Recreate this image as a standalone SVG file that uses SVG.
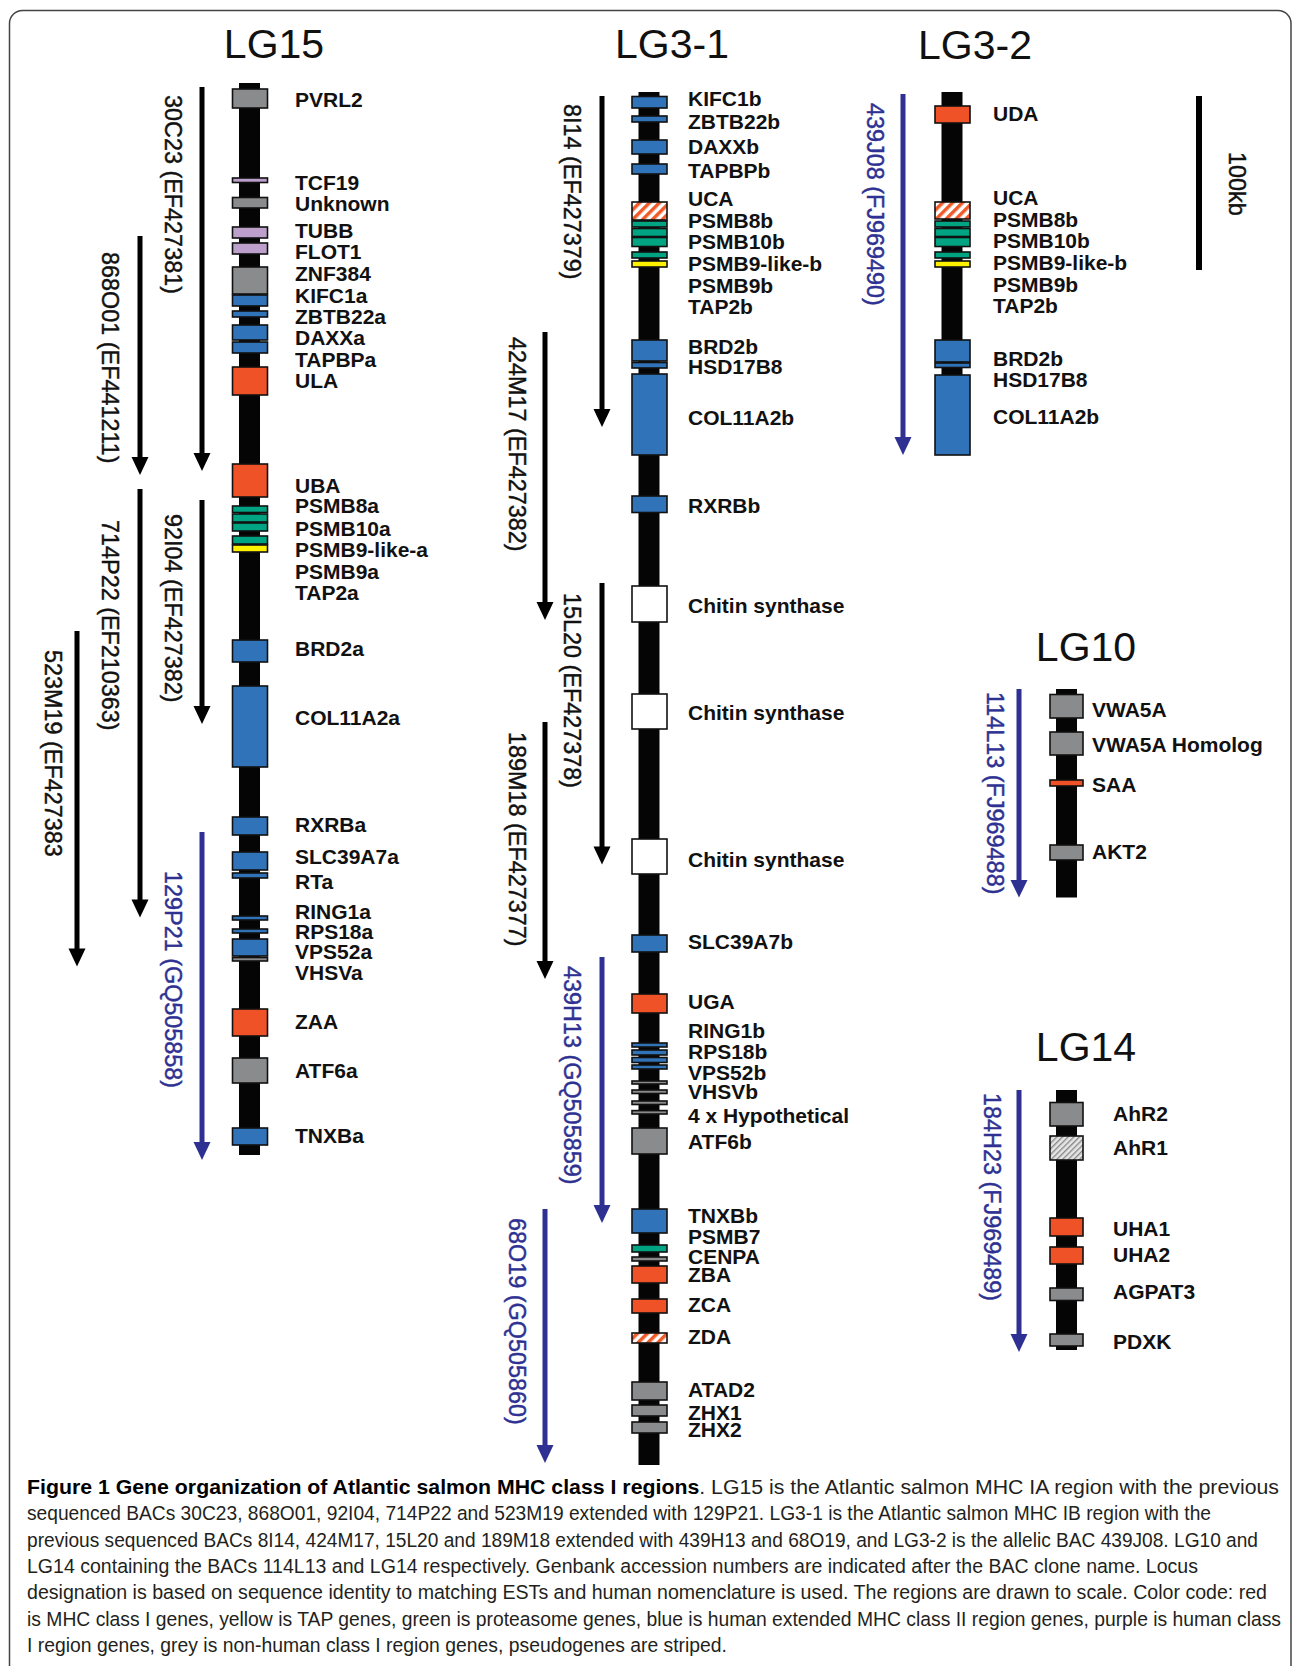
<svg xmlns="http://www.w3.org/2000/svg" width="1293" height="1666" viewBox="0 0 1293 1666">
<defs>
<pattern id="stripe" patternUnits="userSpaceOnUse" width="7" height="7" patternTransform="rotate(45)"><rect width="7" height="7" fill="#fff"/><rect width="3.5" height="7" fill="#f05a28"/></pattern>
<pattern id="hatch" patternUnits="userSpaceOnUse" width="4" height="4" patternTransform="rotate(45)"><rect width="4" height="4" fill="#e6e6e6"/><rect width="1.4" height="4" fill="#8a8a8a"/></pattern>
<style>
.bar{fill:#050505}
.b{stroke:#111;stroke-width:1.6}
.red{fill:#ee5226}.blue{fill:#3073b8}.grey{fill:#8a8b8d}.green{fill:#00a482}.yellow{fill:#fff200}.purple{fill:#bca0cb}.white{fill:#fff}.str{fill:url(#stripe)}.hat{fill:url(#hatch)}
text{font-family:"Liberation Sans",Arial,Helvetica,sans-serif}
.l{font-weight:bold;font-size:21px;fill:#111}
.t{font-size:41px;fill:#111;text-anchor:middle}
.bac{font-size:23.4px;fill:#111;stroke:#111;stroke-width:0.45}
.bacb{font-size:23.4px;fill:#2e3192;stroke:#2e3192;stroke-width:0.45}
.sh{stroke:#000;stroke-width:5;fill:none}
.shb{stroke:#2e3192;stroke-width:5;fill:none}
.hd{fill:#000}.hdb{fill:#2e3192}
.cap{font-size:20.5px;fill:#231f20}
</style>
</defs>
<rect x="9.5" y="10.5" width="1281.5" height="1700" rx="13" fill="#fff" stroke="#444" stroke-width="1.5"/>

<g id="titles">
<text class="t" x="274" y="58">LG15</text>
<text class="t" x="672" y="58">LG3-1</text>
<text class="t" x="975" y="59">LG3-2</text>
<text class="t" x="1086" y="661">LG10</text>
<text class="t" x="1086" y="1061">LG14</text>
</g>

<g id="lg15" transform="translate(232.5,0)">
<rect class="bar" x="6.5" y="83" width="21" height="1072"/>
<rect class="b grey" x="0" y="89" width="35" height="19"/>
<rect class="b purple" x="0" y="178" width="35" height="4.5"/>
<rect class="b grey" x="0" y="197.5" width="35" height="10.5"/>
<rect class="b purple" x="0" y="227" width="35" height="11"/>
<rect class="b purple" x="0" y="243" width="35" height="11"/>
<rect class="b grey" x="0" y="267" width="35" height="27"/>
<rect class="b blue" x="0" y="295" width="35" height="11"/>
<rect class="b blue" x="0" y="311" width="35" height="6"/>
<rect class="b blue" x="0" y="325" width="35" height="15"/>
<rect class="b blue" x="0" y="342" width="35" height="11"/>
<rect class="b red" x="0" y="367" width="35" height="28"/>
<rect class="b red" x="0" y="464" width="35" height="33"/>
<rect class="b green" x="0" y="506" width="35" height="6.5"/>
<rect class="b green" x="0" y="514" width="35" height="8"/>
<rect class="b green" x="0" y="523" width="35" height="8"/>
<rect class="b green" x="0" y="536" width="35" height="8"/>
<rect class="b yellow" x="0" y="545" width="35" height="7"/>
<rect class="b blue" x="0" y="640" width="35" height="22"/>
<rect class="b blue" x="0" y="686" width="35" height="81"/>
<rect class="b blue" x="0" y="817" width="35" height="18"/>
<rect class="b blue" x="0" y="852" width="35" height="18"/>
<rect class="b blue" x="0" y="873" width="35" height="5"/>
<rect class="b blue" x="0" y="916" width="35" height="4"/>
<rect class="b blue" x="0" y="929" width="35" height="4"/>
<rect class="b blue" x="0" y="939" width="35" height="17"/>
<rect class="b grey" x="0" y="957.5" width="35" height="3.5"/>
<rect class="b red" x="0" y="1009" width="35" height="27"/>
<rect class="b grey" x="0" y="1058" width="35" height="25"/>
<rect class="b blue" x="0" y="1128" width="35" height="17"/>
<text class="l" x="62.5" y="107">PVRL2</text>
<text class="l" x="62.5" y="190">TCF19</text>
<text class="l" x="62.5" y="211">Unknown</text>
<text class="l" x="62.5" y="237.5">TUBB</text>
<text class="l" x="62.5" y="259">FLOT1</text>
<text class="l" x="62.5" y="281">ZNF384</text>
<text class="l" x="62.5" y="303">KIFC1a</text>
<text class="l" x="62.5" y="324">ZBTB22a</text>
<text class="l" x="62.5" y="345">DAXXa</text>
<text class="l" x="62.5" y="367">TAPBPa</text>
<text class="l" x="62.5" y="388">ULA</text>
<text class="l" x="62.5" y="493">UBA</text>
<text class="l" x="62.5" y="513">PSMB8a</text>
<text class="l" x="62.5" y="536">PSMB10a</text>
<text class="l" x="62.5" y="557">PSMB9-like-a</text>
<text class="l" x="62.5" y="579">PSMB9a</text>
<text class="l" x="62.5" y="600">TAP2a</text>
<text class="l" x="62.5" y="655.5">BRD2a</text>
<text class="l" x="62.5" y="724.5">COL11A2a</text>
<text class="l" x="62.5" y="832">RXRBa</text>
<text class="l" x="62.5" y="864">SLC39A7a</text>
<text class="l" x="62.5" y="889">RTa</text>
<text class="l" x="62.5" y="919">RING1a</text>
<text class="l" x="62.5" y="939">RPS18a</text>
<text class="l" x="62.5" y="959">VPS52a</text>
<text class="l" x="62.5" y="980">VHSVa</text>
<text class="l" x="62.5" y="1028.6">ZAA</text>
<text class="l" x="62.5" y="1078">ATF6a</text>
<text class="l" x="62.5" y="1143">TNXBa</text>
</g>

<g id="lg3-1" transform="translate(632,0)">
<rect class="bar" x="6.5" y="92" width="21" height="1373"/>
<rect class="b blue" x="0" y="96.5" width="35" height="11.5"/>
<rect class="b blue" x="0" y="116" width="35" height="6"/>
<rect class="b blue" x="0" y="140" width="35" height="14"/>
<rect class="b blue" x="0" y="164" width="35" height="10"/>
<rect class="b str" x="0" y="202" width="35" height="18"/>
<rect class="b green" x="0" y="221" width="35" height="6"/>
<rect class="b green" x="0" y="228.5" width="35" height="8"/>
<rect class="b green" x="0" y="237.5" width="35" height="9"/>
<rect class="b green" x="0" y="252" width="35" height="6"/>
<rect class="b yellow" x="0" y="261" width="35" height="6"/>
<rect class="b blue" x="0" y="340" width="35" height="21"/>
<rect class="b blue" x="0" y="362.5" width="35" height="5.5"/>
<rect class="b blue" x="0" y="374" width="35" height="81"/>
<rect class="b blue" x="0" y="496" width="35" height="16.5"/>
<rect class="b white" x="0" y="586" width="35" height="36"/>
<rect class="b white" x="0" y="694" width="35" height="35"/>
<rect class="b white" x="0" y="839" width="35" height="35"/>
<rect class="b blue" x="0" y="935" width="35" height="17"/>
<rect class="b red" x="0" y="994" width="35" height="19"/>
<rect class="b blue" x="0" y="1043" width="35" height="4"/>
<rect class="b blue" x="0" y="1050" width="35" height="5"/>
<rect class="b blue" x="0" y="1057.5" width="35" height="5"/>
<rect class="b blue" x="0" y="1065" width="35" height="4"/>
<rect class="b grey" x="0" y="1081" width="35" height="3"/>
<rect class="b grey" x="0" y="1090" width="35" height="3.5"/>
<rect class="b grey" x="0" y="1101" width="35" height="3.5"/>
<rect class="b grey" x="0" y="1110.6" width="35" height="3.4"/>
<rect class="b grey" x="0" y="1128" width="35" height="26"/>
<rect class="b blue" x="0" y="1209" width="35" height="24"/>
<rect class="b green" x="0" y="1245" width="35" height="7"/>
<rect class="b grey" x="0" y="1257" width="35" height="4"/>
<rect class="b red" x="0" y="1266" width="35" height="17"/>
<rect class="b red" x="0" y="1299" width="35" height="14"/>
<rect class="b str" x="0" y="1333" width="35" height="10"/>
<rect class="b grey" x="0" y="1382" width="35" height="18"/>
<rect class="b grey" x="0" y="1405" width="35" height="11"/>
<rect class="b grey" x="0" y="1422" width="35" height="11"/>
<text class="l" x="56" y="106">KIFC1b</text>
<text class="l" x="56" y="129">ZBTB22b</text>
<text class="l" x="56" y="154">DAXXb</text>
<text class="l" x="56" y="177.5">TAPBPb</text>
<text class="l" x="56" y="206">UCA</text>
<text class="l" x="56" y="228">PSMB8b</text>
<text class="l" x="56" y="249">PSMB10b</text>
<text class="l" x="56" y="271">PSMB9-like-b</text>
<text class="l" x="56" y="293">PSMB9b</text>
<text class="l" x="56" y="314">TAP2b</text>
<text class="l" x="56" y="354">BRD2b</text>
<text class="l" x="56" y="374">HSD17B8</text>
<text class="l" x="56" y="425">COL11A2b</text>
<text class="l" x="56" y="512.5">RXRBb</text>
<text class="l" x="56" y="613">Chitin synthase</text>
<text class="l" x="56" y="719.6">Chitin synthase</text>
<text class="l" x="56" y="866.5">Chitin synthase</text>
<text class="l" x="56" y="949">SLC39A7b</text>
<text class="l" x="56" y="1008.6">UGA</text>
<text class="l" x="56" y="1038">RING1b</text>
<text class="l" x="56" y="1059">RPS18b</text>
<text class="l" x="56" y="1079.6">VPS52b</text>
<text class="l" x="56" y="1099">VHSVb</text>
<text class="l" x="56" y="1123">4 x Hypothetical</text>
<text class="l" x="56" y="1149">ATF6b</text>
<text class="l" x="56" y="1223">TNXBb</text>
<text class="l" x="56" y="1244">PSMB7</text>
<text class="l" x="56" y="1264">CENPA</text>
<text class="l" x="56" y="1282">ZBA</text>
<text class="l" x="56" y="1312">ZCA</text>
<text class="l" x="56" y="1344">ZDA</text>
<text class="l" x="56" y="1397">ATAD2</text>
<text class="l" x="56" y="1420">ZHX1</text>
<text class="l" x="56" y="1437">ZHX2</text>
</g>

<g id="lg3-2" transform="translate(935,0)">
<rect class="bar" x="6.5" y="92" width="21" height="363"/>
<rect class="b red" x="0" y="106" width="35" height="17"/>
<rect class="b str" x="0" y="202" width="35" height="17"/>
<rect class="b green" x="0" y="221" width="35" height="6"/>
<rect class="b green" x="0" y="228.5" width="35" height="8"/>
<rect class="b green" x="0" y="237.5" width="35" height="9"/>
<rect class="b green" x="0" y="252" width="35" height="6"/>
<rect class="b yellow" x="0" y="261" width="35" height="6"/>
<rect class="b blue" x="0" y="340" width="35" height="22"/>
<rect class="b blue" x="0" y="363" width="35" height="4.5"/>
<rect class="b blue" x="0" y="375" width="35" height="80"/>
<text class="l" x="58" y="121">UDA</text>
<text class="l" x="58" y="205">UCA</text>
<text class="l" x="58" y="227">PSMB8b</text>
<text class="l" x="58" y="248">PSMB10b</text>
<text class="l" x="58" y="270">PSMB9-like-b</text>
<text class="l" x="58" y="292">PSMB9b</text>
<text class="l" x="58" y="313">TAP2b</text>
<text class="l" x="58" y="366">BRD2b</text>
<text class="l" x="58" y="387">HSD17B8</text>
<text class="l" x="58" y="424">COL11A2b</text>
</g>

<g id="scale-bar">
<rect x="1196" y="96" width="6" height="174" fill="#000"/>
<text class="bac" transform="translate(1229,152) rotate(90)">100kb</text>
</g>

<g id="lg10" transform="translate(1050,0)">
<rect class="bar" x="6" y="689" width="21" height="208.5"/>
<rect class="b grey" x="0" y="694.5" width="33" height="23.5"/>
<rect class="b grey" x="0" y="732" width="33" height="23"/>
<rect class="b red" x="0" y="780" width="33" height="6"/>
<rect class="b grey" x="0" y="845" width="33" height="15"/>
<text class="l" x="42" y="717">VWA5A</text>
<text class="l" x="42" y="752">VWA5A Homolog</text>
<text class="l" x="42" y="791.5">SAA</text>
<text class="l" x="42" y="858.7">AKT2</text>
</g>

<g id="lg14" transform="translate(1050,0)">
<rect class="bar" x="6" y="1090" width="21" height="260"/>
<rect class="b grey" x="0" y="1102.5" width="33" height="23.5"/>
<rect class="b hat" x="0" y="1136" width="33" height="24"/>
<rect class="b red" x="0" y="1218" width="33" height="18"/>
<rect class="b red" x="0" y="1247" width="33" height="17"/>
<rect class="b grey" x="0" y="1288" width="33" height="12.5"/>
<rect class="b grey" x="0" y="1334" width="33" height="12"/>
<text class="l" x="63" y="1121">AhR2</text>
<text class="l" x="63" y="1155">AhR1</text>
<text class="l" x="63" y="1236">UHA1</text>
<text class="l" x="63" y="1262">UHA2</text>
<text class="l" x="63" y="1299">AGPAT3</text>
<text class="l" x="63" y="1349">PDXK</text>
</g>

<g id="bac-arrows">
<path class="sh" d="M202 87V455"/><path class="hd" d="M193.5 453h17l-8.5 18z"/>
<text class="bac" transform="translate(165,95) rotate(90)">30C23 (EF427381)</text>
<path class="sh" d="M140 236V460"/><path class="hd" d="M131.5 457h17l-8.5 18z"/>
<text class="bac" transform="translate(102,252) rotate(90)">868O01 (EF441211)</text>
<path class="sh" d="M140 489V902"/><path class="hd" d="M131.5 899.5h17l-8.5 18z"/>
<text class="bac" transform="translate(102,520) rotate(90)">714P22 (EF210363)</text>
<path class="sh" d="M202 500V709"/><path class="hd" d="M193.5 706h17l-8.5 18z"/>
<text class="bac" transform="translate(165,514) rotate(90)">92I04 (EF427382)</text>
<path class="sh" d="M77 631V951"/><path class="hd" d="M68.5 948.5h17l-8.5 18z"/>
<text class="bac" transform="translate(45,650) rotate(90)">523M19 (EF427383</text>
<path class="shb" d="M202 832V1145"/><path class="hdb" d="M193.5 1142h17l-8.5 18z"/>
<text class="bacb" transform="translate(165,871) rotate(90)">129P21 (GQ505858)</text>

<path class="sh" d="M602 96V412"/><path class="hd" d="M593.5 409h17l-8.5 18z"/>
<text class="bac" transform="translate(564,104) rotate(90)">8I14 (EF427379)</text>
<path class="sh" d="M545 332V605"/><path class="hd" d="M536.5 602h17l-8.5 18z"/>
<text class="bac" transform="translate(509,337) rotate(90)">424M17 (EF427382)</text>
<path class="sh" d="M602 583V849"/><path class="hd" d="M593.5 846.5h17l-8.5 18z"/>
<text class="bac" transform="translate(564,593) rotate(90)">15L20 (EF427378)</text>
<path class="sh" d="M545 722V964"/><path class="hd" d="M536.5 961h17l-8.5 18z"/>
<text class="bac" transform="translate(509,732) rotate(90)">189M18 (EF427377)</text>
<path class="shb" d="M602 957V1208"/><path class="hdb" d="M593.5 1205h17l-8.5 18z"/>
<text class="bacb" transform="translate(564,966) rotate(90)">439H13 (GQ505859)</text>
<path class="shb" d="M545 1209V1448"/><path class="hdb" d="M536.5 1445h17l-8.5 18z"/>
<text class="bacb" transform="translate(509,1218) rotate(90)">68O19 (GQ505860)</text>

<path class="shb" d="M903 94V440"/><path class="hdb" d="M894.5 437h17l-8.5 18z"/>
<text class="bacb" transform="translate(867,103) rotate(90)">439J08 (FJ969490)</text>
<path class="shb" d="M1019 689V883"/><path class="hdb" d="M1010.5 880h17l-8.5 17.5z"/>
<text class="bacb" transform="translate(987,692) rotate(90)">114L13 (FJ969488)</text>
<path class="shb" d="M1019 1090V1337"/><path class="hdb" d="M1010.5 1334h17l-8.5 18z"/>
<text class="bacb" transform="translate(984,1093) rotate(90)">184H23 (FJ969489)</text>
</g>

<g id="caption">
<text class="cap" x="27" y="1494" textLength="1252" lengthAdjust="spacingAndGlyphs"><tspan font-weight="bold" fill="#000">Figure 1 Gene organization of Atlantic salmon MHC class I regions</tspan>. LG15 is the Atlantic salmon MHC IA region with the previous</text>
<text class="cap" x="27" y="1520.3" textLength="1184" lengthAdjust="spacingAndGlyphs">sequenced BACs 30C23, 868O01, 92I04, 714P22 and 523M19 extended with 129P21. LG3-1 is the Atlantic salmon MHC IB region with the</text>
<text class="cap" x="27" y="1546.6" textLength="1231" lengthAdjust="spacingAndGlyphs">previous sequenced BACs 8I14, 424M17, 15L20 and 189M18 extended with 439H13 and 68O19, and LG3-2 is the allelic BAC 439J08. LG10 and</text>
<text class="cap" x="27" y="1573" textLength="1171" lengthAdjust="spacingAndGlyphs">LG14 containing the BACs 114L13 and LG14 respectively. Genbank accession numbers are indicated after the BAC clone name. Locus</text>
<text class="cap" x="27" y="1599.2" textLength="1240" lengthAdjust="spacingAndGlyphs">designation is based on sequence identity to matching ESTs and human nomenclature is used. The regions are drawn to scale. Color code: red</text>
<text class="cap" x="27" y="1625.5" textLength="1254" lengthAdjust="spacingAndGlyphs">is MHC class I genes, yellow is TAP genes, green is proteasome genes, blue is human extended MHC class II region genes, purple is human class</text>
<text class="cap" x="27" y="1651.8" textLength="700" lengthAdjust="spacingAndGlyphs">I region genes, grey is non-human class I region genes, pseudogenes are striped.</text>
</g>
</svg>
